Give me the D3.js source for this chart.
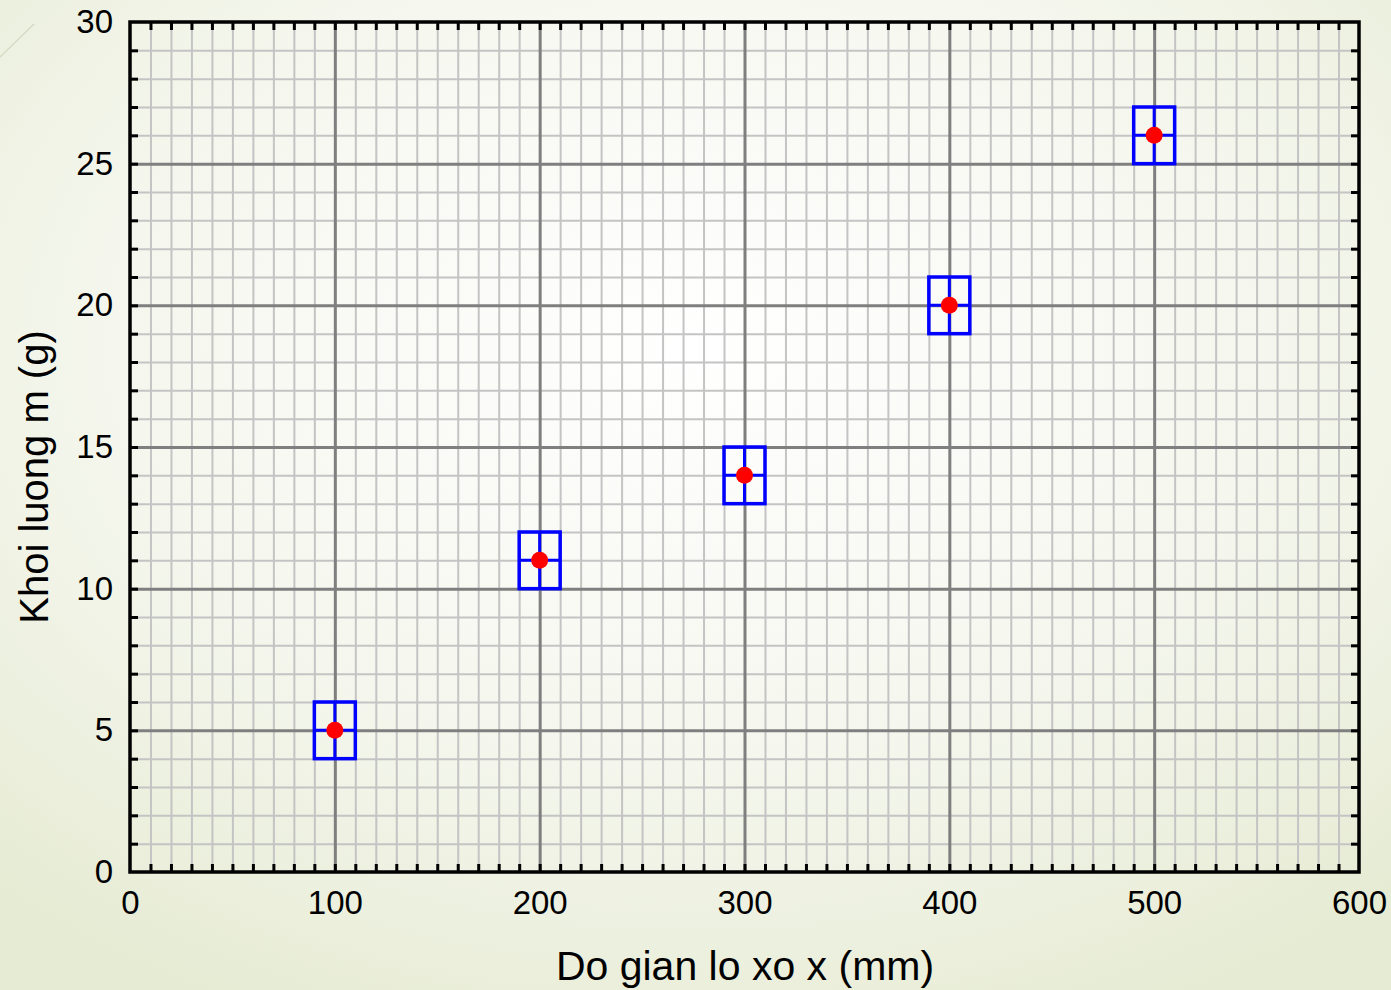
<!DOCTYPE html>
<html lang="en">
<head>
<meta charset="UTF-8"/>
<title>Khoi luong - Do gian</title>
<script src="https://d3js.org/d3.v7.min.js"></script>
<style>
  html, body { margin: 0; padding: 0; }
  body { width: 1391px; height: 990px; overflow: hidden; }
  svg { display: block; font-family: "Liberation Sans", Arial, sans-serif; }
</style>
</head>
<body>
<svg width="1391" height="990"></svg>
<script>
// measured points (x in mm, m in g)
const xValues = [100, 200, 300, 400, 500];
const mValues = [5, 11, 14, 20, 26];
const xErr = 10;
const mErr = 1;
const xTicks = [0, 100, 200, 300, 400, 500, 600];
const yTicks = [0, 5, 10, 15, 20, 25, 30];

const svg = d3.select('svg');
const W = 1391, H = 990;
const plotL = 130, plotR = 1359, plotT = 22, plotB = 872;

// background gradient
const defs = svg.append('defs');
const grad = defs.append('radialGradient')
  .attr('id', 'bg')
  .attr('cx', '50%').attr('cy', '35%').attr('r', '75%');
grad.append('stop').attr('offset', '0%').attr('stop-color', '#ffffff');
grad.append('stop').attr('offset', '55%').attr('stop-color', '#f5f7ee');
grad.append('stop').attr('offset', '100%').attr('stop-color', '#e6ebd3');

svg.append('rect').attr('width', W).attr('height', H).attr('fill', 'url(#bg)');

// faint diagonal decoration top-left
svg.append('line')
  .attr('x1', 0).attr('y1', 57).attr('x2', 34).attr('y2', 24)
  .attr('stroke', '#d2d8c0').attr('stroke-width', 1.2);

const x = d3.scaleLinear().domain([0, 600]).range([plotL, plotR]);
const y = d3.scaleLinear().domain([0, 30]).range([plotB, plotT]);

const chart = svg.append('g');

// minor grid
const minorX = d3.range(10, 600, 10).filter(v => v % 100 !== 0);
const minorY = d3.range(1, 30, 1).filter(v => v % 5 !== 0);

chart.append('g')
  .attr('transform', `translate(0, ${plotB})`)
  .call(d3.axisBottom(x).tickValues(minorX).tickSize(-(plotB - plotT)).tickFormat(''))
  .call(g => g.select('.domain').remove())
  .call(g => g.selectAll('line').attr('stroke', '#c4c4c4').attr('stroke-width', 2));

chart.append('g')
  .attr('transform', `translate(${plotL}, 0)`)
  .call(d3.axisLeft(y).tickValues(minorY).tickSize(-(plotR - plotL)).tickFormat(''))
  .call(g => g.select('.domain').remove())
  .call(g => g.selectAll('line').attr('stroke', '#c4c4c4').attr('stroke-width', 2));

// major grid
chart.append('g')
  .attr('transform', `translate(0, ${plotB})`)
  .call(d3.axisBottom(x).tickValues(xTicks.slice(1, -1)).tickSize(-(plotB - plotT)).tickFormat(''))
  .call(g => g.select('.domain').remove())
  .call(g => g.selectAll('line').attr('stroke', '#7f7f7f').attr('stroke-width', 3));

chart.append('g')
  .attr('transform', `translate(${plotL}, 0)`)
  .call(d3.axisLeft(y).tickValues(yTicks.slice(1, -1)).tickSize(-(plotR - plotL)).tickFormat(''))
  .call(g => g.select('.domain').remove())
  .call(g => g.selectAll('line').attr('stroke', '#7f7f7f').attr('stroke-width', 3));

// inward ticks on all four sides
const allX = d3.range(10, 600, 10);
const allY = d3.range(1, 30, 1);
const tickLen = 8;
const styleTicks = g => {
  g.select('.domain').remove();
  g.selectAll('line').attr('stroke', '#000').attr('stroke-width', 3);
};
chart.append('g').attr('transform', `translate(0, ${plotB})`)
  .call(d3.axisTop(x).tickValues(allX).tickSize(tickLen).tickFormat('')).call(styleTicks);
chart.append('g').attr('transform', `translate(0, ${plotT})`)
  .call(d3.axisBottom(x).tickValues(allX).tickSize(tickLen).tickFormat('')).call(styleTicks);
chart.append('g').attr('transform', `translate(${plotL}, 0)`)
  .call(d3.axisRight(y).tickValues(allY).tickSize(tickLen).tickFormat('')).call(styleTicks);
chart.append('g').attr('transform', `translate(${plotR}, 0)`)
  .call(d3.axisLeft(y).tickValues(allY).tickSize(tickLen).tickFormat('')).call(styleTicks);

// frame
chart.append('rect')
  .attr('x', plotL).attr('y', plotT)
  .attr('width', plotR - plotL).attr('height', plotB - plotT)
  .attr('fill', 'none').attr('stroke', '#000').attr('stroke-width', 3.5);

// tick labels
const xAxis = chart.append('g')
  .attr('transform', `translate(0, ${plotB})`)
  .call(d3.axisBottom(x).tickValues(xTicks).tickSize(0).tickPadding(19));
xAxis.select('.domain').remove();
xAxis.selectAll('text').attr('font-size', 33).attr('fill', '#000')
  .attr('font-family', '"Liberation Sans", Arial, sans-serif');

const yAxis = chart.append('g')
  .attr('transform', `translate(${plotL}, 0)`)
  .call(d3.axisLeft(y).tickValues(yTicks).tickSize(0).tickPadding(17));
yAxis.select('.domain').remove();
yAxis.selectAll('text').attr('font-size', 33).attr('fill', '#000')
  .attr('font-family', '"Liberation Sans", Arial, sans-serif');

// axis titles
svg.append('text')
  .attr('x', 745).attr('y', 980)
  .attr('text-anchor', 'middle')
  .attr('font-size', 41)
  .text('Do gian lo xo x (mm)');

svg.append('text')
  .attr('transform', `translate(48, 477) rotate(-90)`)
  .attr('text-anchor', 'middle')
  .attr('font-size', 40)
  .text('Khoi luong m (g)');

// data points with error boxes
const pts = xValues.map((v, i) => ({ x: v, m: mValues[i] }));
const grp = chart.selectAll('.pt').data(pts).enter().append('g').attr('class', 'pt');

grp.append('rect')
  .attr('x', d => x(d.x - xErr))
  .attr('y', d => y(d.m + mErr))
  .attr('width', d => x(d.x + xErr) - x(d.x - xErr))
  .attr('height', d => y(d.m - mErr) - y(d.m + mErr))
  .attr('fill', 'none').attr('stroke', '#0000ff').attr('stroke-width', 3.5);

grp.append('line')
  .attr('x1', d => x(d.x)).attr('x2', d => x(d.x))
  .attr('y1', d => y(d.m + mErr)).attr('y2', d => y(d.m - mErr))
  .attr('stroke', '#0000ff').attr('stroke-width', 3);

grp.append('line')
  .attr('x1', d => x(d.x - xErr)).attr('x2', d => x(d.x + xErr))
  .attr('y1', d => y(d.m)).attr('y2', d => y(d.m))
  .attr('stroke', '#0000ff').attr('stroke-width', 3);

grp.append('circle')
  .attr('cx', d => x(d.x)).attr('cy', d => y(d.m))
  .attr('r', 8.5).attr('fill', '#ff0000');
</script>
</body>
</html>
